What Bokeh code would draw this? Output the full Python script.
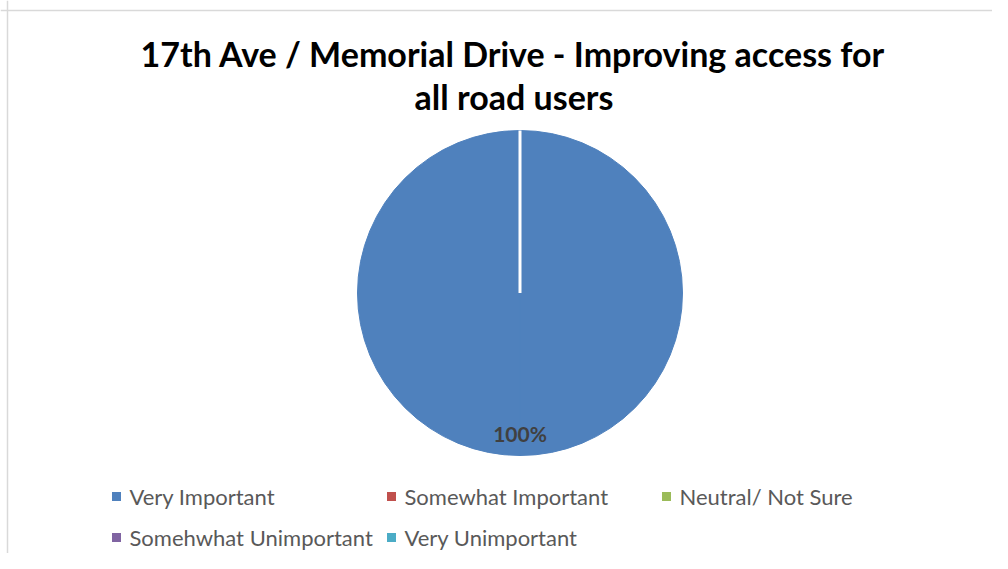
import math
from bokeh.plotting import figure
from bokeh.models import Range1d, ColumnDataSource, Span
from bokeh.core.properties import value
from bokeh.embed import file_html
from bokeh.resources import INLINE

# ---- data ----
title_lines = ["17th Ave / Memorial Drive - Improving access for", "all road users"]
categories = ["Very Important", "Somewhat Important", "Neutral/ Not Sure",
              "Somehwhat Unimportant", "Very Unimportant"]
percent = [100, 0, 0, 0, 0]
colors = ["#4F81BD", "#C0504D", "#9BBB59", "#8064A2", "#4BACC6"]

W, H = 992, 553
p = figure(width=W, height=H, output_backend="svg", toolbar_location=None,
           x_range=Range1d(0, W), y_range=Range1d(0, H), min_border=0,
           background_fill_color="white", border_fill_color="white")
p.axis.visible = False
p.grid.visible = False
p.outline_line_color = None

FONT = "Lato"

# chart-area border (top and left edge visible in the reference)
p.add_layout(Span(location=H - 10, dimension="width", line_color="#d9d9d9", line_width=1.5))
p.add_layout(Span(location=7, dimension="height", line_color="#d9d9d9", line_width=1.5))

# ---- title ----
p.text(x=[512.5, 513.5], y=[H - 53.0, H - 96.0], text=title_lines, text_font=value(FONT),
       text_font_style="bold", text_font_size="34px", text_color="#000000",
       text_align="center", text_baseline="middle")

# ---- pie ----
cx, cy, R = 519.5, H - 292.5, 162.5
total = float(sum(percent))
xs, ys, starts, ends, wcols = [], [], [], [], []
bx, by = [], []
mids, labs = [], []
a = math.pi / 2
for v, c in zip(percent, colors):
    frac = v / total
    if frac > 0:
        e = a - 2 * math.pi * frac
        half = (a + e) / 2
        # each slice drawn as two halves (a full 360 deg arc would not render)
        for s0, s1 in ((a, half), (half, e)):
            xs.append(cx); ys.append(cy); starts.append(s0); ends.append(s1); wcols.append(c)
        bx.append(cx + R * math.cos(a)); by.append(cy + R * math.sin(a))
        mids.append(half)
        labs.append(f"{v:.0f}%")
        a = e
src = ColumnDataSource(dict(x=xs, y=ys, start=starts, end=ends, color=wcols))
p.wedge(x="x", y="y", radius=R, start_angle="start", end_angle="end",
        direction="clock", fill_color="color", line_color="color", line_width=1,
        source=src)
# white slice separators
p.segment(x0=[cx] * len(bx), y0=[cy] * len(by), x1=bx, y1=by,
          line_color="white", line_width=3)

lr = 0.865 * R
p.text(x=[cx + lr * math.cos(m) for m in mids], y=[cy + lr * math.sin(m) for m in mids],
       text=labs, text_font=value(FONT), text_font_style="bold", text_font_size="21px",
       text_color="#404040", text_align="center", text_baseline="middle")

# ---- legend (3 columns, row-major) ----
lx0, ly0, colw, rowh = 116.0, H - 496.0, 275.0, 41.0
lx = [lx0 + (i % 3) * colw for i in range(len(categories))]
ly = [ly0 - (i // 3) * rowh for i in range(len(categories))]
p.scatter(x=lx, y=ly, marker="square", size=9, fill_color=colors, line_color=None)
p.text(x=[x + 13 for x in lx], y=ly, text=categories,
       text_font=value(FONT), text_font_size="22px", text_color="#595959",
       text_align="left", text_baseline="middle")

open("out.html", "w").write(file_html(p, INLINE))
